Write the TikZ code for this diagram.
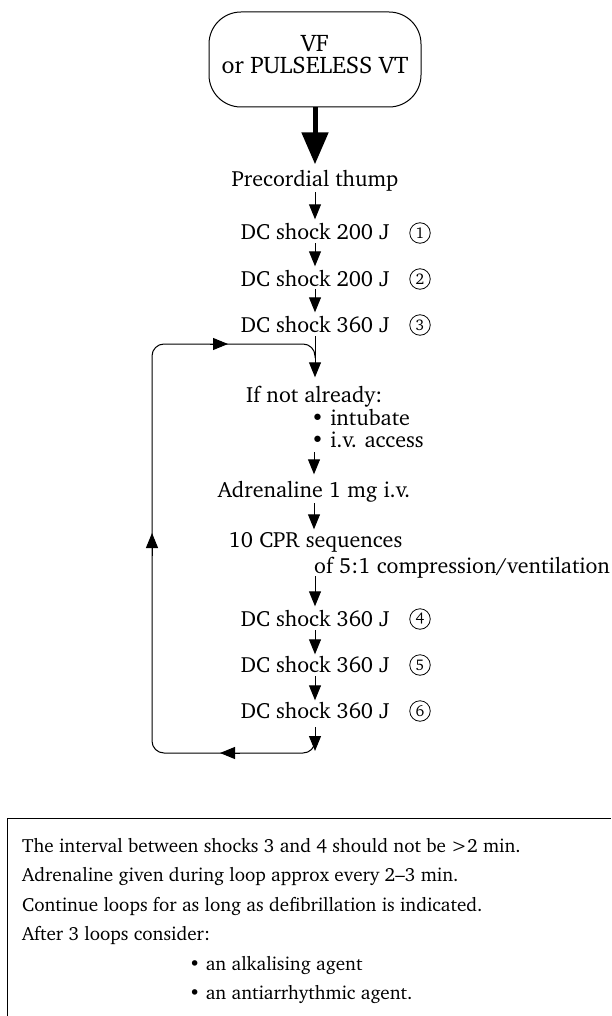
\documentclass[tikz,border=0pt]{standalone}
\usepackage[T1]{fontenc}
\usetikzlibrary{arrows.meta}
\newcommand{\mainfnt}{\fontfamily{bch}\fontsize{22}{24}\selectfont}
\newcommand{\notefnt}{\fontfamily{bch}\fontsize{19.1}{22}\selectfont}
\newcommand{\boxfnt}{\fontfamily{bch}\fontsize{24}{21.5}\selectfont}
\newcommand{\numfnt}{\fontfamily{bch}\fontsize{15.5}{16}\selectfont}
\tikzset{
  txt/.style={inner sep=0pt, anchor=base, font=\mainfnt},
  notetxt/.style={inner sep=0pt, anchor=base west, font=\notefnt},
  flowtxt/.style={txt, text height=14.5pt, text depth=0pt},
  numc/.style={circle, draw, line width=0.8pt, minimum size=20.5pt, inner sep=0pt, font=\numfnt},
  startbox/.style={draw, line width=1pt, rounded corners=32pt, minimum width=212pt, minimum height=95pt, align=center, font=\boxfnt, inner sep=0pt},
  arr/.style={-{Triangle[length=15pt,width=12pt]}, line width=1pt},
  bigarr/.style={-{Triangle[length=32pt,width=26pt]}, line width=5pt},
  frame/.style={line width=1pt},
}
\begin{document}
\begin{tikzpicture}[x=1pt,y=-1pt]
\useasboundingbox (0,0) rectangle (611,1016);
% start box
\node[startbox] (vf) at (315,59.5) {VF\\or PULSELESS VT\rule[-10pt]{0pt}{10pt}};
% flow texts
\node[flowtxt] (pt) at (315,187) {Precordial thump};
\node[flowtxt] (s1) at (315,240) {DC shock 200 J};
\node[numc] (n1) at (420,233) {1};
\node[flowtxt] (s2) at (315,286) {DC shock 200 J};
\node[numc] (n2) at (420,279) {2};
\node[flowtxt] (s3) at (315,332) {DC shock 360 J};
\node[numc] (n3) at (420,325) {3};
\node[flowtxt, anchor=base west] (ifn) at (246,402) {If not already:};
\node[flowtxt, anchor=base west] (int) at (311,425) {\textbullet\ intubate};
\node[flowtxt, anchor=base west] (iva) at (311,447) {\textbullet\ i.v. access};
\node[flowtxt] (adr) at (314,497) {Adrenaline 1 mg i.v.};
\node[flowtxt] (cpr) at (315.5,547) {10 CPR sequences};
\node[flowtxt, anchor=base west] (cpr2) at (314,573) {of 5:1 compression/ventilation};
\node[flowtxt] (s4) at (315,626) {DC shock 360 J};
\node[numc] (n4) at (420,619) {4};
\node[flowtxt] (s5) at (315,672) {DC shock 360 J};
\node[numc] (n5) at (420,665) {5};
\node[flowtxt] (s6) at (315,718) {DC shock 360 J};
\node[numc] (n6) at (420,711) {6};
% loop coordinates
\coordinate (jbot) at (315,738);
\coordinate (btip) at (315,751);
\coordinate (blc) at (152,753);
\coordinate (trc) at (315,344);
\coordinate (jtop) at (315,358);
\coordinate (ta) at (210,344);
\coordinate (tb) at (228,344);
\coordinate (ba) at (240,753);
\coordinate (bb) at (220,753);
\coordinate (la) at (152,556);
\coordinate (lb) at (152,533);
% connectors
\draw[bigarr, shorten >=8pt] (vf.south) -- (pt.north);
\draw[arr, shorten <=5pt, shorten >=6pt] (pt.south) -- (s1.north);
\draw[arr, shorten <=3pt, shorten >=5pt] (s1.south) -- (s2.north);
\draw[arr, shorten <=3pt, shorten >=5pt] (s2.south) -- (s3.north);
\draw[arr, shorten <=4pt, shorten >=10pt] (s3.south) -- (s3.south |- ifn.north);
\draw[arr, shorten <=5pt, shorten >=8pt] (iva.south -| adr.north) -- (adr.north);
\draw[arr, shorten <=6pt, shorten >=3pt] (adr.south) -- (adr.south |- cpr.north);
\draw[arr, shorten <=3pt, shorten >=5pt] (cpr2.south -| s4.north) -- (s4.north);
\draw[arr, shorten <=4pt, shorten >=3pt] (s4.south) -- (s5.north);
\draw[arr, shorten <=4pt, shorten >=3pt] (s5.south) -- (s6.north);
\draw[arr, shorten <=9pt] (s6.south) -- (btip);
% loop
\draw[line width=1pt, rounded corners=12pt] (jbot) |- (blc) |- (trc) -- (jtop);
\draw[arr] (ta) -- (tb);
\draw[arr] (ba) -- (bb);
\draw[arr] (la) -- (lb);
% note box
\coordinate (fbl) at (7.5,1016);
\coordinate (ftl) at (7.5,818);
\coordinate (ftr) at (611,818);
\draw[frame] (fbl) -- (ftl) -- (ftr);
\node[notetxt] (l1) at (22,852) {The interval between shocks 3 and 4 should not be >2 min.};
\node[notetxt] (l2) at (22,881.5) {Adrenaline given during loop approx every 2--3 min.};
\node[notetxt] (l3) at (22,911) {Continue loops for as long as defibrillation is indicated.};
\node[notetxt] (l4) at (22,940.5) {After 3 loops consider:};
\node[notetxt] (l5) at (189,970) {\textbullet\ an alkalising agent};
\node[notetxt] (l6) at (189,999.5) {\textbullet\ an antiarrhythmic agent.};
\end{tikzpicture}
\end{document}
